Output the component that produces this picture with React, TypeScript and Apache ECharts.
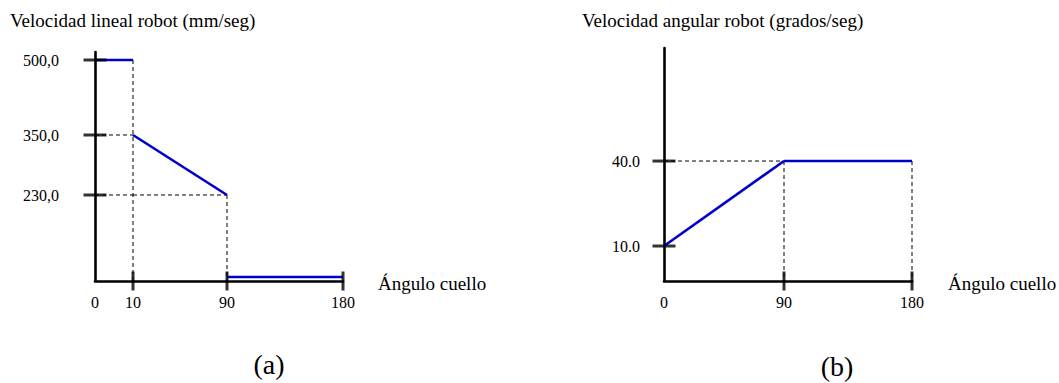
import { useEffect, useRef } from "react";
import * as echarts from "echarts";

type Pt = [number, number];

// ---- Panel (a): robot linear speed (mm/seg) against neck angle ----
const linearAngleTicks = [0, 10, 90, 180];
const linearSpeedTicks = [230, 350, 500];
const linearSpeedHigh: Pt[] = [[0, 500], [10, 500]];
const linearSpeedRamp: Pt[] = [[10, 350], [90, 230]];
const linearSpeedLow: Pt[] = [[90, 66], [180, 66]];
// dashed guides: vertical [angle, speed at top], horizontal [speed, angle at right end]
const linearGuidesV: Pt[] = [[10, 500], [90, 230]];
const linearGuidesH: Pt[] = [[350, 10], [230, 90]];

// ---- Panel (b): robot angular speed (grados/seg) against neck angle ----
const angularAngleTicks = [0, 90, 180];
const angularSpeedTicks = [10, 40];
const angularSpeedRamp: Pt[] = [[0, 10], [90, 40]];
const angularSpeedFlat: Pt[] = [[90, 40], [180, 40]];
const angularGuidesV: Pt[] = [[90, 40], [180, 40]];
const angularGuidesH: Pt[] = [[40, 90]];

const FONT = '"Liberation Serif", "Times New Roman", serif';
const BLUE = "#0000cc";
const INK = "#000000";

interface PanelSpec {
  breaks: number[]; // angle values where the schematic axis changes pace
  edges: number[]; // pixel x of each of those angles
  top: number;
  bottom: number;
  yMin: number;
  yMax: number;
  angleTicks: number[];
  speedTicks: number[];
  curves: Pt[][];
  guidesV: Pt[];
  guidesH: Pt[];
  yFormat: (v: number) => string;
  yLabelMargin: number;
}

const panels: PanelSpec[] = [
  {
    breaks: [0, 10, 90, 180],
    edges: [95, 133, 227, 343],
    top: 52,
    bottom: 281,
    yMin: 58,
    yMax: 516,
    angleTicks: linearAngleTicks,
    speedTicks: linearSpeedTicks,
    curves: [linearSpeedHigh, linearSpeedRamp, linearSpeedLow],
    guidesV: linearGuidesV,
    guidesH: linearGuidesH,
    yFormat: (v) => v.toFixed(1).replace(".", ","),
    yLabelMargin: 36,
  },
  {
    breaks: [0, 90, 180],
    edges: [664, 784, 912],
    top: 48,
    bottom: 281,
    yMin: -2.35,
    yMax: 79.9,
    angleTicks: angularAngleTicks,
    speedTicks: angularSpeedTicks,
    curves: [angularSpeedRamp, angularSpeedFlat],
    guidesV: angularGuidesV,
    guidesH: angularGuidesH,
    yFormat: (v) => v.toFixed(1),
    yLabelMargin: 24,
  },
];

function buildOption() {
  const grids: any[] = [];
  const xAxes: any[] = [];
  const yAxes: any[] = [];
  const series: any[] = [];

  panels.forEach((p) => {
    const base = grids.length;
    const n = p.breaks.length - 1;
    const owner = (x: number) => {
      for (let k = 0; k < n; k++) if (x <= p.breaks[k + 1]) return k;
      return n - 1;
    };

    const axisLine = { show: true, onZero: false, lineStyle: { color: INK, width: 2.6 } };

    for (let k = 0; k < n; k++) {
      grids.push({
        left: p.edges[k],
        width: p.edges[k + 1] - p.edges[k],
        top: p.top,
        height: p.bottom - p.top,
        containLabel: false,
        outerBoundsMode: "none",
      });
      const own = p.angleTicks.filter((t) => owner(t) === k);
      xAxes.push({
        type: "value",
        gridIndex: base + k,
        min: p.breaks[k],
        max: p.breaks[k + 1],
        splitLine: { show: false },
        axisTick: { show: false },
        axisLine,
        axisLabel: {
          show: own.length > 0,
          customValues: own,
          showMinLabel: true,
          showMaxLabel: true,
          margin: 13,
          color: INK,
          fontFamily: FONT,
          fontSize: 16,
        },
      });
      yAxes.push({
        type: "value",
        gridIndex: base + k,
        min: p.yMin,
        max: p.yMax,
        show: k === 0,
        splitLine: { show: false },
        axisTick: { show: false },
        axisLine: { ...axisLine, show: k === 0 },
        axisLabel: {
          show: k === 0,
          customValues: p.speedTicks,
          showMinLabel: true,
          showMaxLabel: true,
          formatter: (v: number) => p.yFormat(v),
          margin: p.yLabelMargin,
          color: INK,
          fontFamily: FONT,
          fontSize: 16,
        },
      });
    }

    // a straight segment, split across the grids it passes through
    const addSegment = (a: Pt, b: Pt, lineStyle: any, z: number) => {
      const yAt = (x: number) =>
        a[0] === b[0] ? a[1] : a[1] + ((b[1] - a[1]) * (x - a[0])) / (b[0] - a[0]);
      if (a[0] === b[0]) {
        const k = owner(a[0]);
        series.push({
          type: "line",
          xAxisIndex: base + k,
          yAxisIndex: base + k,
          data: [a, b],
          symbol: "none",
          clip: false,
          silent: true,
          lineStyle,
          z,
        });
        return;
      }
      const x0 = Math.min(a[0], b[0]);
      const x1 = Math.max(a[0], b[0]);
      for (let k = 0; k < n; k++) {
        const lo = Math.max(x0, p.breaks[k]);
        const hi = Math.min(x1, p.breaks[k + 1]);
        if (hi > lo) {
          series.push({
            type: "line",
            xAxisIndex: base + k,
            yAxisIndex: base + k,
            data: [
              [lo, yAt(lo)],
              [hi, yAt(hi)],
            ],
            symbol: "none",
            clip: false,
            silent: true,
            lineStyle,
            z,
          });
        }
      }
    };

    const dashed = { color: INK, width: 1, type: [4, 3] };
    p.guidesV.forEach(([x, y]) => addSegment([x, y], [x, p.yMin], dashed, 1));
    p.guidesH.forEach(([y, x]) => addSegment([p.breaks[0], y], [x, y], dashed, 1));

    p.curves.forEach((c) => {
      for (let i = 0; i + 1 < c.length; i++) {
        addSegment(c[i], c[i + 1], { color: BLUE, width: 2.6 }, 3);
      }
    });

    // tick marks crossing the axes
    for (let k = 0; k < n; k++) {
      const xt = p.angleTicks.filter((t) => t !== p.breaks[0] && owner(t) === k);
      if (xt.length) {
        series.push({
          type: "scatter",
          xAxisIndex: base + k,
          yAxisIndex: base + k,
          data: xt.map((t) => [t, p.yMin]),
          symbol: "rect",
          symbolSize: [3, 19],
          itemStyle: { color: INK },
          clip: false,
          silent: true,
          z: 4,
        });
      }
    }
    series.push({
      type: "scatter",
      xAxisIndex: base,
      yAxisIndex: base,
      data: p.speedTicks.map((v) => [p.breaks[0], v]),
      symbol: "rect",
      symbolSize: [23, 3],
      itemStyle: { color: INK },
      clip: false,
      silent: true,
      z: 4,
    });
  });

  const text = (t: string, x: number, y: number, size: number, align = "left") => ({
    type: "text",
    x,
    y,
    silent: true,
    style: {
      text: t,
      fill: INK,
      font: `${size}px ${FONT}`,
      align,
      verticalAlign: "middle",
    },
  });

  return {
    animation: false,
    backgroundColor: "#ffffff",
    grid: grids,
    xAxis: xAxes,
    yAxis: yAxes,
    series,
    graphic: [
      text("Velocidad lineal robot (mm/seg)", 10, 20, 19),
      text("Velocidad angular robot (grados/seg)", 582, 20, 19),
      text("Ángulo cuello", 378, 283, 19),
      text("Ángulo cuello", 948, 283, 19),
      text("(a)", 269, 364, 28, "center"),
      text("(b)", 837, 366, 28, "center"),
    ],
  };
}

export default function App() {
  const ref = useRef<HTMLDivElement>(null);
  useEffect(() => {
    if (!ref.current) return;
    const chart = echarts.init(ref.current, undefined, { renderer: "svg" });
    chart.setOption(buildOption() as any);
    return () => chart.dispose();
  }, []);
  return (
    <div
      ref={ref}
      style={{ position: "fixed", left: 0, top: 0, width: 1059, height: 383, background: "#fff" }}
    />
  );
}
